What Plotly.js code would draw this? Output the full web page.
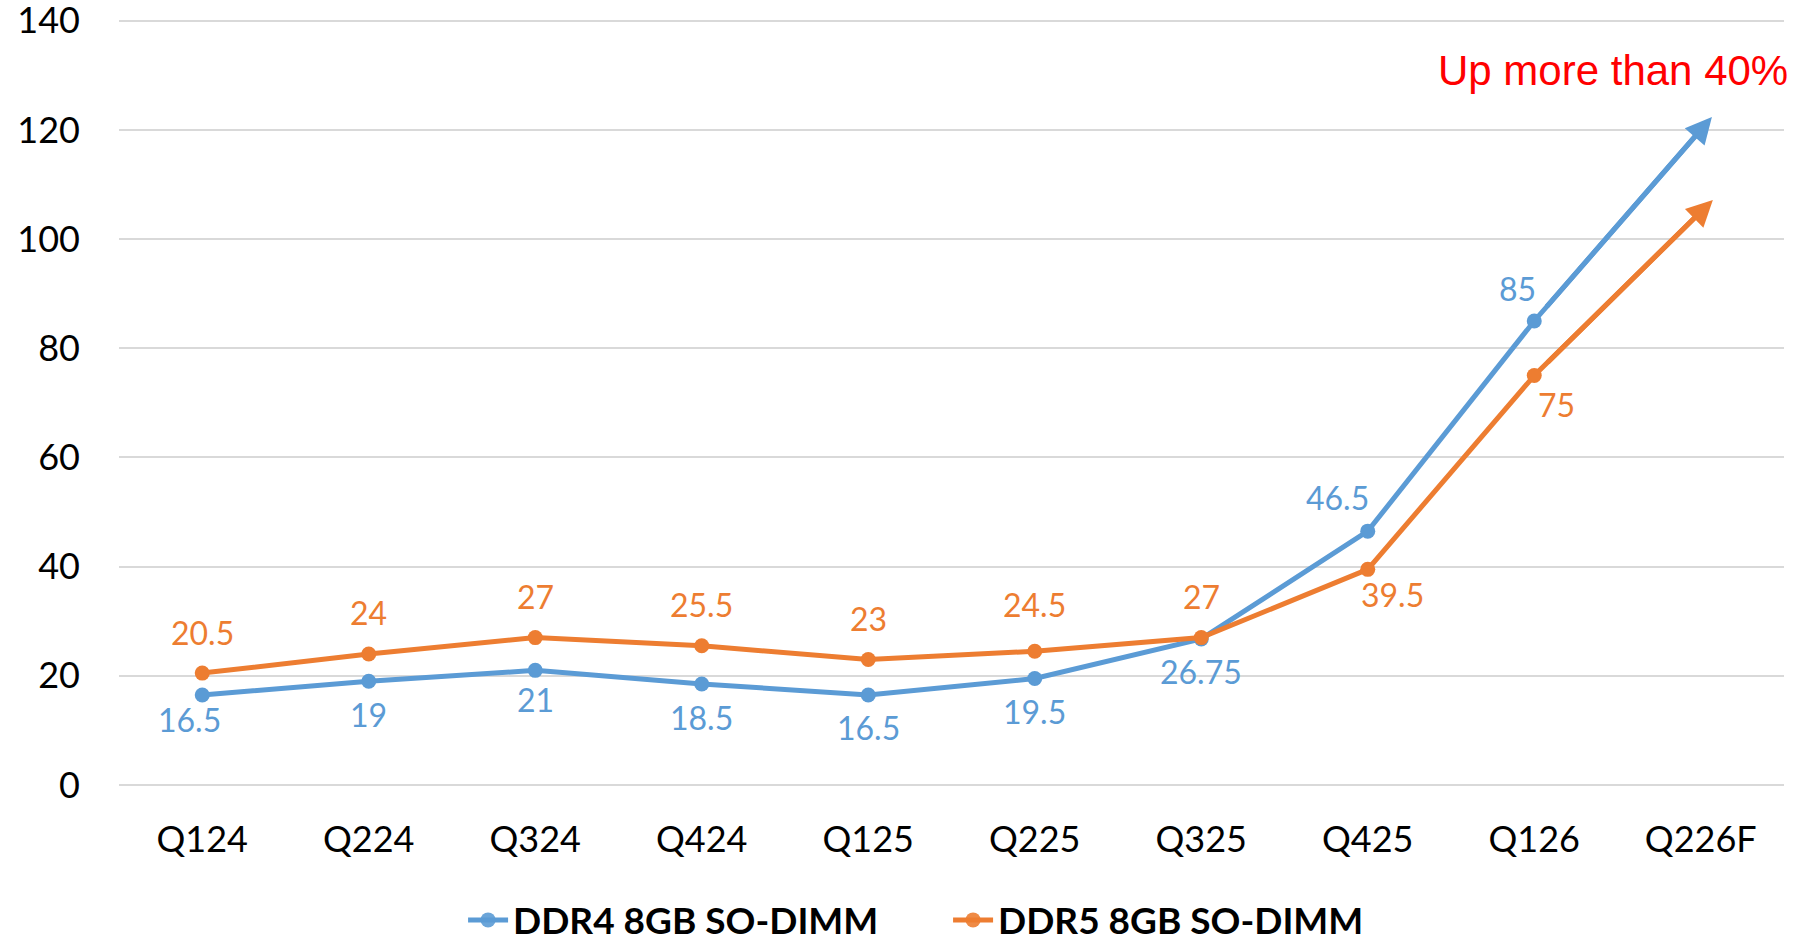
<!DOCTYPE html>
<html>
<head>
<meta charset="utf-8">
<script src="https://cdn.plot.ly/plotly-3.0.1.min.js"></script>
<style>
  html, body { margin: 0; padding: 0; background: #ffffff; }
  #chart { width: 1799px; height: 943px; }
</style>
</head>
<body>
<div id="chart"></div>
<script>
// ---- data ----
const categories = ['Q124', 'Q224', 'Q324', 'Q424', 'Q125', 'Q225', 'Q325', 'Q425', 'Q126', 'Q226F'];
const ddr4Values = [16.5, 19, 21, 18.5, 16.5, 19.5, 26.75, 46.5, 85, 120];
const ddr5Values = [20.5, 24, 27, 25.5, 23, 24.5, 27, 39.5, 75, 105];
const ddr4Labels = ['16.5', '19', '21', '18.5', '16.5', '19.5', '26.75', '46.5', '85', ''];
const ddr5Labels = ['20.5', '24', '27', '25.5', '23', '24.5', '27', '39.5', '75', ''];
const seriesNames = ['DDR4 8GB SO-DIMM', 'DDR5 8GB SO-DIMM'];
const yTicks = [0, 20, 40, 60, 80, 100, 120, 140];
const calloutText = 'Up more than 40%';

// ---- styling ----
const BLUE = '#5B9BD5';
const ORANGE = '#ED7D31';
const FONT = 'Lato, "Open Sans", sans-serif';
const ARROW_OVERSHOOT = 17; // px the arrow tip reaches past the last point (Excel style)

// label placement: [xshift, yshift] in px
const ddr4Place = ['belowleft', 'below', 'below2', 'below', 'below', 'below', 'below', 'upleft', 'upleft2', 'none'];
const ddr5Place = ['above', 'above', 'above', 'above', 'above', 'above2', 'above', 'downright', 'downright2', 'none'];
const shifts = {
  below: [0, -33], belowleft: [-13, -25], below2: [0, -29],
  above: [0, 41], above2: [0, 47],
  upleft: [-30, 34], upleft2: [-17, 32],
  downright: [25, -25], downright2: [22, -29], none: [0, 0]
};

const N = categories.length;
function lastOnly(base, last) {
  return categories.map((_, i) => i === N - 1 ? last : base);
}

function makeTrace(name, values, color) {
  return {
    type: 'scatter',
    mode: 'lines+markers',
    name: name,
    x: categories,
    y: values,
    line: { color: color, width: 5, backoff: lastOnly(0, 20) },
    marker: {
      color: color,
      size: 15,
      opacity: lastOnly(1, 0),
      line: { width: 0 }
    },
    cliponaxis: false,
    hoverinfo: 'skip'
  };
}

const traces = [
  makeTrace(seriesNames[0], ddr4Values, BLUE),
  makeTrace(seriesNames[1], ddr5Values, ORANGE)
];

function labelAnnotations(values, labels, places, color) {
  const out = [];
  values.forEach((v, i) => {
    if (!labels[i]) return;
    const s = shifts[places[i]];
    out.push({
      x: categories[i], y: v, xref: 'x', yref: 'y',
      text: labels[i], showarrow: false,
      xshift: s[0], yshift: s[1],
      xanchor: 'center', yanchor: 'middle',
      font: { family: FONT, size: 32, color: color }
    });
  });
  return out;
}

// arrowheads on the final (forecast) segment, drawn from the data
function arrowAnnotation(values, color) {
  return {
    xref: 'x', yref: 'y', axref: 'x', ayref: 'y',
    x: N - 1, y: values[N - 1],
    ax: N - 2, ay: values[N - 2],
    text: '',
    showarrow: true,
    arrowhead: 2,
    arrowsize: 1.05,
    arrowwidth: 5,
    arrowcolor: color,
    standoff: 0,
    startstandoff: 0
  };
}

const annotations = []
  .concat(labelAnnotations(ddr4Values, ddr4Labels, ddr4Place, BLUE))
  .concat(labelAnnotations(ddr5Values, ddr5Labels, ddr5Place, ORANGE));
const arrowIdx = annotations.length;
annotations.push(arrowAnnotation(ddr4Values, BLUE));
annotations.push(arrowAnnotation(ddr5Values, ORANGE));

annotations.push({
  text: calloutText,
  xref: 'paper', yref: 'y',
  x: 1.0036, y: 130.8,
  xanchor: 'right', yanchor: 'middle',
  showarrow: false,
  font: { family: '"Liberation Sans", Arial, sans-serif', size: 42, color: '#FF0000' }
});

const layout = {
  width: 1799,
  height: 943,
  paper_bgcolor: '#ffffff',
  plot_bgcolor: '#ffffff',
  margin: { l: 119, r: 15, t: 18, b: 158 },
  showlegend: true,
  legend: {
    orientation: 'h',
    xref: 'container', yref: 'container',
    x: 0.527, xanchor: 'center',
    y: 0.024, yanchor: 'middle',
    font: { family: FONT, size: 37, color: '#000000', weight: 'bold' },
    itemwidth: 40,
    entrywidth: 430,
    bgcolor: 'rgba(0,0,0,0)'
  },
  xaxis: {
    type: 'category',
    range: [-0.5, 9.5],
    showgrid: false,
    zeroline: false,
    showline: false,
    ticks: '',
    ticklabelstandoff: 30,
    tickfont: { family: FONT, size: 36, color: '#000000' },
    fixedrange: true
  },
  yaxis: {
    range: [0, 140.5],
    tickvals: yTicks,
    showgrid: true,
    gridcolor: '#D9D9D9',
    gridwidth: 2,
    zeroline: true,
    zerolinecolor: '#D9D9D9',
    zerolinewidth: 2,
    showline: false,
    ticks: '',
    ticklabelstandoff: 38,
    ticklabeloverflow: 'allow',
    tickfont: { family: FONT, size: 36, color: '#000000' },
    fixedrange: true
  },
  annotations: annotations
};

const gd = document.getElementById('chart');
Plotly.newPlot(gd, traces, layout, { displayModeBar: false, staticPlot: true }).then(function () {
  // push the arrow tips a little past the last point along the segment direction
  const xa = gd._fullLayout.xaxis, ya = gd._fullLayout.yaxis;
  const upd = {};
  [ddr4Values, ddr5Values].forEach(function (vals, k) {
    const dx = xa.l2p(N - 1) - xa.l2p(N - 2);
    const dy = ya.l2p(vals[N - 1]) - ya.l2p(vals[N - 2]);
    const len = Math.sqrt(dx * dx + dy * dy);
    upd['annotations[' + (arrowIdx + k) + '].xshift'] = dx / len * ARROW_OVERSHOOT;
    upd['annotations[' + (arrowIdx + k) + '].yshift'] = -dy / len * ARROW_OVERSHOOT;
  });
  return Plotly.relayout(gd, upd);
});
</script>
</body>
</html>
